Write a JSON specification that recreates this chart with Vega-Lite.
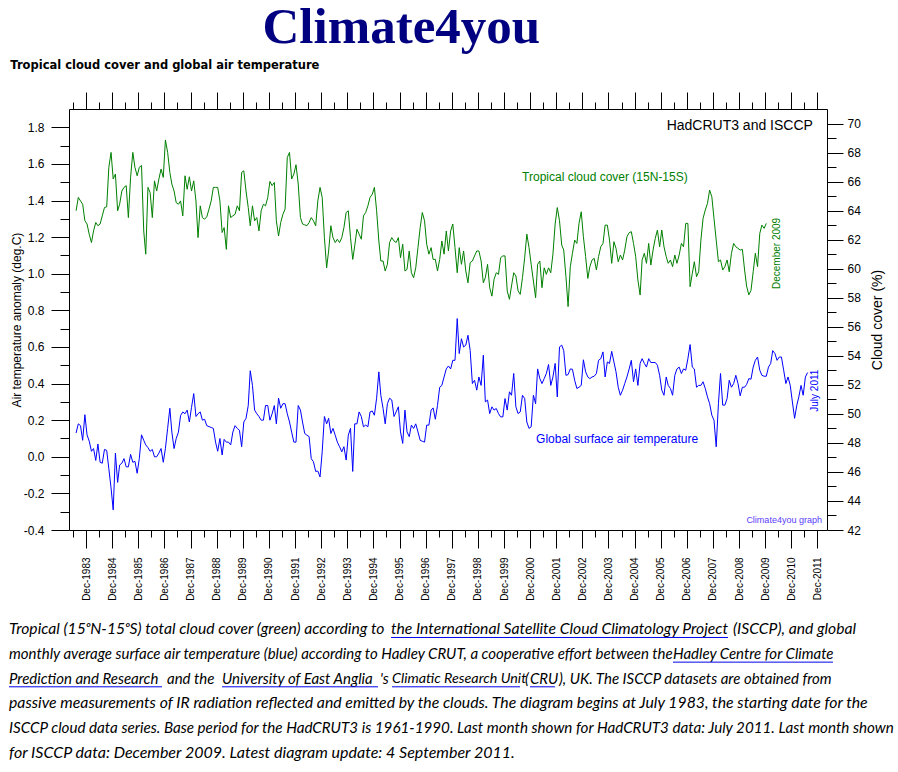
{
  "$schema": "https://vega.github.io/schema/vega-lite/v6.json",
  "background": "white",
  "padding": {"left": 8, "top": 2, "right": 0, "bottom": 0},
  "title": {
    "text": "Climate4you",
    "font": "Liberation Serif",
    "fontSize": 51,
    "fontWeight": "bold",
    "color": "#000080",
    "anchor": "start",
    "dx": 254,
    "dy": -1,
    "offset": 5
  },
  "config": {
    "view": {"stroke": null},
    "axis": {
      "labelFont": "Liberation Sans",
      "titleFont": "Liberation Sans",
      "labelColor": "#000000",
      "titleColor": "#000000",
      "tickColor": "#000000",
      "domainColor": "#000000",
      "grid": false,
      "titleFontWeight": "normal"
    },
    "text": {"font": "Liberation Sans"},
    "style": {
      "capplain": {"font": "Lato", "fontStyle": "italic", "fontSize": 15, "fill": "#000000", "align": "left", "baseline": "middle"},
      "caplink": {"font": "Lato", "fontStyle": "italic", "fontSize": 15, "fill": "#0000ee", "align": "left", "baseline": "middle"}
    }
  },
  "spacing": 16,
  "datasets": {
    "monthly": [
      {"date": "1983-07-15", "temp": 0.13, "cloud": 63.99},
      {"date": "1983-08-15", "temp": 0.18, "cloud": 64.91},
      {"date": "1983-09-15", "temp": 0.17, "cloud": 64.67},
      {"date": "1983-10-15", "temp": 0.09, "cloud": 64.44},
      {"date": "1983-11-15", "temp": 0.23, "cloud": 63.3},
      {"date": "1983-12-15", "temp": 0.12, "cloud": 63.08},
      {"date": "1984-01-15", "temp": 0.085, "cloud": 62.37},
      {"date": "1984-02-15", "temp": 0.03, "cloud": 61.8},
      {"date": "1984-03-15", "temp": 0.045, "cloud": 62.6},
      {"date": "1984-04-15", "temp": -0.02, "cloud": 63.18},
      {"date": "1984-05-15", "temp": 0.07, "cloud": 62.96},
      {"date": "1984-06-15", "temp": -0.03, "cloud": 63.08},
      {"date": "1984-07-15", "temp": -0.035, "cloud": 63.64},
      {"date": "1984-08-15", "temp": 0.04, "cloud": 64.21},
      {"date": "1984-09-15", "temp": 0.035, "cloud": 64.26},
      {"date": "1984-10-15", "temp": -0.065, "cloud": 66.98},
      {"date": "1984-11-15", "temp": -0.17, "cloud": 68.01},
      {"date": "1984-12-15", "temp": -0.29, "cloud": 66.18},
      {"date": "1985-01-15", "temp": 0.02, "cloud": 66.52},
      {"date": "1985-02-15", "temp": -0.14, "cloud": 63.99},
      {"date": "1985-03-15", "temp": -0.045, "cloud": 64.44},
      {"date": "1985-04-15", "temp": -0.035, "cloud": 65.35},
      {"date": "1985-05-15", "temp": -0.01, "cloud": 65.6},
      {"date": "1985-06-15", "temp": -0.055, "cloud": 65.72},
      {"date": "1985-07-15", "temp": -0.055, "cloud": 63.52},
      {"date": "1985-08-15", "temp": 0.013, "cloud": 66.29},
      {"date": "1985-09-15", "temp": -0.03, "cloud": 68.01},
      {"date": "1985-10-15", "temp": -0.025, "cloud": 66.98},
      {"date": "1985-11-15", "temp": -0.09, "cloud": 66.4},
      {"date": "1985-12-15", "temp": -0.01, "cloud": 66.98},
      {"date": "1986-01-15", "temp": 0.12, "cloud": 67.11},
      {"date": "1986-02-15", "temp": 0.09, "cloud": 62.6},
      {"date": "1986-03-15", "temp": 0.065, "cloud": 61.0},
      {"date": "1986-04-15", "temp": 0.05, "cloud": 65.6},
      {"date": "1986-05-15", "temp": 0.03, "cloud": 65.25},
      {"date": "1986-06-15", "temp": 0.04, "cloud": 63.52},
      {"date": "1986-07-15", "temp": 0.0, "cloud": 66.05},
      {"date": "1986-08-15", "temp": 0.0, "cloud": 65.35},
      {"date": "1986-09-15", "temp": 0.02, "cloud": 66.18},
      {"date": "1986-10-15", "temp": 0.045, "cloud": 66.86},
      {"date": "1986-11-15", "temp": -0.03, "cloud": 66.29},
      {"date": "1986-12-15", "temp": 0.045, "cloud": 68.87},
      {"date": "1987-01-15", "temp": 0.155, "cloud": 68.01},
      {"date": "1987-02-15", "temp": 0.265, "cloud": 66.63},
      {"date": "1987-03-15", "temp": 0.135, "cloud": 65.83},
      {"date": "1987-04-15", "temp": 0.045, "cloud": 65.35},
      {"date": "1987-05-15", "temp": 0.1, "cloud": 64.55},
      {"date": "1987-06-15", "temp": 0.135, "cloud": 64.44},
      {"date": "1987-07-15", "temp": 0.225, "cloud": 64.67},
      {"date": "1987-08-15", "temp": 0.245, "cloud": 63.64},
      {"date": "1987-09-15", "temp": 0.235, "cloud": 66.4},
      {"date": "1987-10-15", "temp": 0.255, "cloud": 65.47},
      {"date": "1987-11-15", "temp": 0.19, "cloud": 66.33},
      {"date": "1987-12-15", "temp": 0.27, "cloud": 65.35},
      {"date": "1988-01-15", "temp": 0.345, "cloud": 66.05},
      {"date": "1988-02-15", "temp": 0.22, "cloud": 64.67},
      {"date": "1988-03-15", "temp": 0.235, "cloud": 62.14},
      {"date": "1988-04-15", "temp": 0.245, "cloud": 64.33},
      {"date": "1988-05-15", "temp": 0.2, "cloud": 63.52},
      {"date": "1988-06-15", "temp": 0.205, "cloud": 63.41},
      {"date": "1988-07-15", "temp": 0.17, "cloud": 63.57},
      {"date": "1988-08-15", "temp": 0.165, "cloud": 64.1},
      {"date": "1988-09-15", "temp": 0.16, "cloud": 64.67},
      {"date": "1988-10-15", "temp": 0.155, "cloud": 65.6},
      {"date": "1988-11-15", "temp": 0.08, "cloud": 65.6},
      {"date": "1988-12-15", "temp": 0.03, "cloud": 65.6},
      {"date": "1989-01-15", "temp": 0.1, "cloud": 64.67},
      {"date": "1989-02-15", "temp": 0.01, "cloud": 62.49},
      {"date": "1989-03-15", "temp": 0.095, "cloud": 62.83},
      {"date": "1989-04-15", "temp": 0.08, "cloud": 61.33},
      {"date": "1989-05-15", "temp": 0.08, "cloud": 64.33},
      {"date": "1989-06-15", "temp": 0.065, "cloud": 63.52},
      {"date": "1989-07-15", "temp": 0.135, "cloud": 63.64},
      {"date": "1989-08-15", "temp": 0.17, "cloud": 63.75},
      {"date": "1989-09-15", "temp": 0.155, "cloud": 64.33},
      {"date": "1989-10-15", "temp": 0.145, "cloud": 63.99},
      {"date": "1989-11-15", "temp": 0.055, "cloud": 66.63},
      {"date": "1989-12-15", "temp": 0.19, "cloud": 66.74},
      {"date": "1990-01-15", "temp": 0.21, "cloud": 65.35},
      {"date": "1990-02-15", "temp": 0.28, "cloud": 64.21},
      {"date": "1990-03-15", "temp": 0.47, "cloud": 62.96},
      {"date": "1990-04-15", "temp": 0.39, "cloud": 64.33},
      {"date": "1990-05-15", "temp": 0.255, "cloud": 63.3},
      {"date": "1990-06-15", "temp": 0.235, "cloud": 63.52},
      {"date": "1990-07-15", "temp": 0.22, "cloud": 62.6},
      {"date": "1990-08-15", "temp": 0.2, "cloud": 63.99},
      {"date": "1990-09-15", "temp": 0.2, "cloud": 64.44},
      {"date": "1990-10-15", "temp": 0.28, "cloud": 64.33},
      {"date": "1990-11-15", "temp": 0.28, "cloud": 64.91},
      {"date": "1990-12-15", "temp": 0.2, "cloud": 66.01},
      {"date": "1991-01-15", "temp": 0.235, "cloud": 65.72},
      {"date": "1991-02-15", "temp": 0.28, "cloud": 65.94},
      {"date": "1991-03-15", "temp": 0.18, "cloud": 63.3},
      {"date": "1991-04-15", "temp": 0.32, "cloud": 62.25},
      {"date": "1991-05-15", "temp": 0.265, "cloud": 63.18},
      {"date": "1991-06-15", "temp": 0.29, "cloud": 63.75},
      {"date": "1991-07-15", "temp": 0.29, "cloud": 64.1},
      {"date": "1991-08-15", "temp": 0.235, "cloud": 67.66},
      {"date": "1991-09-15", "temp": 0.19, "cloud": 68.01},
      {"date": "1991-10-15", "temp": 0.135, "cloud": 66.18},
      {"date": "1991-11-15", "temp": 0.08, "cloud": 66.52},
      {"date": "1991-12-15", "temp": 0.08, "cloud": 67.16},
      {"date": "1992-01-15", "temp": 0.28, "cloud": 65.83},
      {"date": "1992-02-15", "temp": 0.255, "cloud": 63.52},
      {"date": "1992-03-15", "temp": 0.19, "cloud": 63.08},
      {"date": "1992-04-15", "temp": 0.127, "cloud": 63.02},
      {"date": "1992-05-15", "temp": 0.118, "cloud": 62.96},
      {"date": "1992-06-15", "temp": 0.11, "cloud": 63.18},
      {"date": "1992-07-15", "temp": -0.01, "cloud": 63.52},
      {"date": "1992-08-15", "temp": -0.027, "cloud": 63.3},
      {"date": "1992-09-15", "temp": -0.08, "cloud": 62.96},
      {"date": "1992-10-15", "temp": -0.078, "cloud": 64.67},
      {"date": "1992-11-15", "temp": -0.11, "cloud": 65.6},
      {"date": "1992-12-15", "temp": 0.027, "cloud": 64.91},
      {"date": "1993-01-15", "temp": 0.22, "cloud": 62.14},
      {"date": "1993-02-15", "temp": 0.18, "cloud": 60.06},
      {"date": "1993-03-15", "temp": 0.21, "cloud": 61.22},
      {"date": "1993-04-15", "temp": 0.127, "cloud": 62.96},
      {"date": "1993-05-15", "temp": 0.155, "cloud": 62.14},
      {"date": "1993-06-15", "temp": 0.118, "cloud": 61.8},
      {"date": "1993-07-15", "temp": 0.08, "cloud": 62.03},
      {"date": "1993-08-15", "temp": 0.055, "cloud": 61.8},
      {"date": "1993-09-15", "temp": 0.027, "cloud": 62.14},
      {"date": "1993-10-15", "temp": 0.055, "cloud": 62.83},
      {"date": "1993-11-15", "temp": -0.018, "cloud": 63.87},
      {"date": "1993-12-15", "temp": 0.118, "cloud": 63.99},
      {"date": "1994-01-15", "temp": 0.155, "cloud": 62.14},
      {"date": "1994-02-15", "temp": -0.08, "cloud": 60.64},
      {"date": "1994-03-15", "temp": 0.18, "cloud": 61.57},
      {"date": "1994-04-15", "temp": 0.18, "cloud": 62.72},
      {"date": "1994-05-15", "temp": 0.245, "cloud": 62.38},
      {"date": "1994-06-15", "temp": 0.22, "cloud": 62.03},
      {"date": "1994-07-15", "temp": 0.164, "cloud": 63.64},
      {"date": "1994-08-15", "temp": 0.173, "cloud": 63.87},
      {"date": "1994-09-15", "temp": 0.164, "cloud": 64.33},
      {"date": "1994-10-15", "temp": 0.245, "cloud": 64.91},
      {"date": "1994-11-15", "temp": 0.25, "cloud": 65.13},
      {"date": "1994-12-15", "temp": 0.227, "cloud": 65.6},
      {"date": "1995-01-15", "temp": 0.32, "cloud": 63.99},
      {"date": "1995-02-15", "temp": 0.464, "cloud": 61.91},
      {"date": "1995-03-15", "temp": 0.336, "cloud": 60.53},
      {"date": "1995-04-15", "temp": 0.264, "cloud": 60.53},
      {"date": "1995-05-15", "temp": 0.18, "cloud": 59.84},
      {"date": "1995-06-15", "temp": 0.29, "cloud": 60.3},
      {"date": "1995-07-15", "temp": 0.32, "cloud": 61.8},
      {"date": "1995-08-15", "temp": 0.31, "cloud": 62.14},
      {"date": "1995-09-15", "temp": 0.22, "cloud": 61.91},
      {"date": "1995-10-15", "temp": 0.245, "cloud": 61.8},
      {"date": "1995-11-15", "temp": 0.273, "cloud": 62.14},
      {"date": "1995-12-15", "temp": 0.136, "cloud": 60.76},
      {"date": "1996-01-15", "temp": 0.073, "cloud": 61.69},
      {"date": "1996-02-15", "temp": 0.255, "cloud": 59.84},
      {"date": "1996-03-15", "temp": 0.136, "cloud": 59.95},
      {"date": "1996-04-15", "temp": 0.11, "cloud": 61.22},
      {"date": "1996-05-15", "temp": 0.173, "cloud": 59.72},
      {"date": "1996-06-15", "temp": 0.155, "cloud": 59.38},
      {"date": "1996-07-15", "temp": 0.18, "cloud": 60.06},
      {"date": "1996-08-15", "temp": 0.136, "cloud": 61.45},
      {"date": "1996-09-15", "temp": 0.09, "cloud": 62.83},
      {"date": "1996-10-15", "temp": 0.085, "cloud": 63.87},
      {"date": "1996-11-15", "temp": 0.08, "cloud": 63.3},
      {"date": "1996-12-15", "temp": 0.173, "cloud": 61.69},
      {"date": "1997-01-15", "temp": 0.173, "cloud": 61.0},
      {"date": "1997-02-15", "temp": 0.255, "cloud": 61.45},
      {"date": "1997-03-15", "temp": 0.267, "cloud": 60.64},
      {"date": "1997-04-15", "temp": 0.205, "cloud": 60.64},
      {"date": "1997-05-15", "temp": 0.28, "cloud": 59.84},
      {"date": "1997-06-15", "temp": 0.38, "cloud": 60.64},
      {"date": "1997-07-15", "temp": 0.39, "cloud": 61.91},
      {"date": "1997-08-15", "temp": 0.436, "cloud": 61.0},
      {"date": "1997-09-15", "temp": 0.48, "cloud": 62.6},
      {"date": "1997-10-15", "temp": 0.496, "cloud": 61.22},
      {"date": "1997-11-15", "temp": 0.48, "cloud": 62.6},
      {"date": "1997-12-15", "temp": 0.527, "cloud": 63.08},
      {"date": "1998-01-15", "temp": 0.527, "cloud": 61.45},
      {"date": "1998-02-15", "temp": 0.755, "cloud": 59.72},
      {"date": "1998-03-15", "temp": 0.564, "cloud": 61.45},
      {"date": "1998-04-15", "temp": 0.645, "cloud": 60.3},
      {"date": "1998-05-15", "temp": 0.6, "cloud": 61.22},
      {"date": "1998-06-15", "temp": 0.61, "cloud": 59.84},
      {"date": "1998-07-15", "temp": 0.664, "cloud": 59.03},
      {"date": "1998-08-15", "temp": 0.58, "cloud": 60.42},
      {"date": "1998-09-15", "temp": 0.4, "cloud": 60.53},
      {"date": "1998-10-15", "temp": 0.418, "cloud": 60.88},
      {"date": "1998-11-15", "temp": 0.364, "cloud": 61.22},
      {"date": "1998-12-15", "temp": 0.436, "cloud": 61.22},
      {"date": "1999-01-15", "temp": 0.39, "cloud": 60.53},
      {"date": "1999-02-15", "temp": 0.555, "cloud": 59.03},
      {"date": "1999-03-15", "temp": 0.3, "cloud": 59.38},
      {"date": "1999-04-15", "temp": 0.31, "cloud": 60.3},
      {"date": "1999-05-15", "temp": 0.236, "cloud": 58.69},
      {"date": "1999-06-15", "temp": 0.273, "cloud": 58.11},
      {"date": "1999-07-15", "temp": 0.255, "cloud": 59.27},
      {"date": "1999-08-15", "temp": 0.264, "cloud": 59.72},
      {"date": "1999-09-15", "temp": 0.236, "cloud": 59.61},
      {"date": "1999-10-15", "temp": 0.218, "cloud": 60.76},
      {"date": "1999-11-15", "temp": 0.218, "cloud": 60.88},
      {"date": "1999-12-15", "temp": 0.318, "cloud": 60.88},
      {"date": "2000-01-15", "temp": 0.255, "cloud": 58.47},
      {"date": "2000-02-15", "temp": 0.355, "cloud": 57.89},
      {"date": "2000-03-15", "temp": 0.336, "cloud": 58.81},
      {"date": "2000-04-15", "temp": 0.455, "cloud": 59.72},
      {"date": "2000-05-15", "temp": 0.273, "cloud": 59.5},
      {"date": "2000-06-15", "temp": 0.236, "cloud": 58.47},
      {"date": "2000-07-15", "temp": 0.245, "cloud": 58.23},
      {"date": "2000-08-15", "temp": 0.336, "cloud": 59.38},
      {"date": "2000-09-15", "temp": 0.318, "cloud": 60.76},
      {"date": "2000-10-15", "temp": 0.19, "cloud": 62.38},
      {"date": "2000-11-15", "temp": 0.155, "cloud": 61.45},
      {"date": "2000-12-15", "temp": 0.164, "cloud": 60.3},
      {"date": "2001-01-15", "temp": 0.336, "cloud": 59.15},
      {"date": "2001-02-15", "temp": 0.29, "cloud": 58.0},
      {"date": "2001-03-15", "temp": 0.48, "cloud": 60.3},
      {"date": "2001-04-15", "temp": 0.427, "cloud": 60.53},
      {"date": "2001-05-15", "temp": 0.4, "cloud": 58.69},
      {"date": "2001-06-15", "temp": 0.427, "cloud": 60.06},
      {"date": "2001-07-15", "temp": 0.455, "cloud": 59.61},
      {"date": "2001-08-15", "temp": 0.504, "cloud": 60.06},
      {"date": "2001-09-15", "temp": 0.39, "cloud": 59.72},
      {"date": "2001-10-15", "temp": 0.436, "cloud": 61.0},
      {"date": "2001-11-15", "temp": 0.51, "cloud": 63.08},
      {"date": "2001-12-15", "temp": 0.327, "cloud": 64.21},
      {"date": "2002-01-15", "temp": 0.6, "cloud": 63.3},
      {"date": "2002-02-15", "temp": 0.61, "cloud": 61.63},
      {"date": "2002-03-15", "temp": 0.58, "cloud": 61.28},
      {"date": "2002-04-15", "temp": 0.445, "cloud": 59.45},
      {"date": "2002-05-15", "temp": 0.449, "cloud": 57.39},
      {"date": "2002-06-15", "temp": 0.48, "cloud": 60.14},
      {"date": "2002-07-15", "temp": 0.478, "cloud": 61.06},
      {"date": "2002-08-15", "temp": 0.418, "cloud": 61.97},
      {"date": "2002-09-15", "temp": 0.373, "cloud": 61.74},
      {"date": "2002-10-15", "temp": 0.38, "cloud": 63.12},
      {"date": "2002-11-15", "temp": 0.39, "cloud": 63.92},
      {"date": "2002-12-15", "temp": 0.53, "cloud": 62.2},
      {"date": "2003-01-15", "temp": 0.464, "cloud": 60.83},
      {"date": "2003-02-15", "temp": 0.436, "cloud": 59.33},
      {"date": "2003-03-15", "temp": 0.427, "cloud": 60.14},
      {"date": "2003-04-15", "temp": 0.436, "cloud": 60.6},
      {"date": "2003-05-15", "temp": 0.44, "cloud": 60.71},
      {"date": "2003-06-15", "temp": 0.455, "cloud": 59.91},
      {"date": "2003-07-15", "temp": 0.527, "cloud": 60.83},
      {"date": "2003-08-15", "temp": 0.536, "cloud": 61.51},
      {"date": "2003-09-15", "temp": 0.573, "cloud": 61.74},
      {"date": "2003-10-15", "temp": 0.436, "cloud": 63.0},
      {"date": "2003-11-15", "temp": 0.518, "cloud": 63.0},
      {"date": "2003-12-15", "temp": 0.51, "cloud": 61.97},
      {"date": "2004-01-15", "temp": 0.576, "cloud": 60.37},
      {"date": "2004-02-15", "temp": 0.518, "cloud": 61.86},
      {"date": "2004-03-15", "temp": 0.464, "cloud": 61.4},
      {"date": "2004-04-15", "temp": 0.38, "cloud": 60.48},
      {"date": "2004-05-15", "temp": 0.336, "cloud": 60.94},
      {"date": "2004-06-15", "temp": 0.364, "cloud": 60.6},
      {"date": "2004-07-15", "temp": 0.4, "cloud": 61.28},
      {"date": "2004-08-15", "temp": 0.436, "cloud": 62.2},
      {"date": "2004-09-15", "temp": 0.48, "cloud": 62.48},
      {"date": "2004-10-15", "temp": 0.527, "cloud": 62.55},
      {"date": "2004-11-15", "temp": 0.41, "cloud": 61.74},
      {"date": "2004-12-15", "temp": 0.48, "cloud": 60.83},
      {"date": "2005-01-15", "temp": 0.39, "cloud": 59.22},
      {"date": "2005-02-15", "temp": 0.51, "cloud": 58.19},
      {"date": "2005-03-15", "temp": 0.536, "cloud": 60.6},
      {"date": "2005-04-15", "temp": 0.51, "cloud": 61.06},
      {"date": "2005-05-15", "temp": 0.49, "cloud": 60.37},
      {"date": "2005-06-15", "temp": 0.536, "cloud": 61.74},
      {"date": "2005-07-15", "temp": 0.515, "cloud": 60.25},
      {"date": "2005-08-15", "temp": 0.515, "cloud": 61.28},
      {"date": "2005-09-15", "temp": 0.515, "cloud": 62.09},
      {"date": "2005-10-15", "temp": 0.5, "cloud": 62.66},
      {"date": "2005-11-15", "temp": 0.445, "cloud": 61.51},
      {"date": "2005-12-15", "temp": 0.364, "cloud": 62.66},
      {"date": "2006-01-15", "temp": 0.336, "cloud": 61.51},
      {"date": "2006-02-15", "temp": 0.436, "cloud": 60.83},
      {"date": "2006-03-15", "temp": 0.39, "cloud": 60.37},
      {"date": "2006-04-15", "temp": 0.373, "cloud": 60.6},
      {"date": "2006-05-15", "temp": 0.336, "cloud": 60.14},
      {"date": "2006-06-15", "temp": 0.445, "cloud": 60.94},
      {"date": "2006-07-15", "temp": 0.48, "cloud": 60.37},
      {"date": "2006-08-15", "temp": 0.49, "cloud": 60.94},
      {"date": "2006-09-15", "temp": 0.455, "cloud": 61.74},
      {"date": "2006-10-15", "temp": 0.48, "cloud": 61.51},
      {"date": "2006-11-15", "temp": 0.473, "cloud": 63.12},
      {"date": "2006-12-15", "temp": 0.536, "cloud": 63.12},
      {"date": "2007-01-15", "temp": 0.613, "cloud": 58.76},
      {"date": "2007-02-15", "temp": 0.49, "cloud": 59.68},
      {"date": "2007-03-15", "temp": 0.48, "cloud": 60.48},
      {"date": "2007-04-15", "temp": 0.38, "cloud": 59.45},
      {"date": "2007-05-15", "temp": 0.39, "cloud": 59.79},
      {"date": "2007-06-15", "temp": 0.39, "cloud": 61.97},
      {"date": "2007-07-15", "temp": 0.41, "cloud": 63.46},
      {"date": "2007-08-15", "temp": 0.373, "cloud": 64.04},
      {"date": "2007-09-15", "temp": 0.327, "cloud": 64.5},
      {"date": "2007-10-15", "temp": 0.29, "cloud": 65.41},
      {"date": "2007-11-15", "temp": 0.227, "cloud": 64.95},
      {"date": "2007-12-15", "temp": 0.2, "cloud": 63.46},
      {"date": "2008-01-15", "temp": 0.055, "cloud": 61.97},
      {"date": "2008-02-15", "temp": 0.29, "cloud": 60.48},
      {"date": "2008-03-15", "temp": 0.455, "cloud": 60.6},
      {"date": "2008-04-15", "temp": 0.282, "cloud": 59.91},
      {"date": "2008-05-15", "temp": 0.282, "cloud": 60.14},
      {"date": "2008-06-15", "temp": 0.318, "cloud": 60.6},
      {"date": "2008-07-15", "temp": 0.418, "cloud": 59.79},
      {"date": "2008-08-15", "temp": 0.38, "cloud": 61.06},
      {"date": "2008-09-15", "temp": 0.4, "cloud": 61.74},
      {"date": "2008-10-15", "temp": 0.445, "cloud": 61.51},
      {"date": "2008-11-15", "temp": 0.4, "cloud": 61.4},
      {"date": "2008-12-15", "temp": 0.333, "cloud": 61.28},
      {"date": "2009-01-15", "temp": 0.38, "cloud": 61.33},
      {"date": "2009-02-15", "temp": 0.38, "cloud": 59.91},
      {"date": "2009-03-15", "temp": 0.395, "cloud": 58.8},
      {"date": "2009-04-15", "temp": 0.427, "cloud": 58.2},
      {"date": "2009-05-15", "temp": 0.424, "cloud": 58.5},
      {"date": "2009-06-15", "temp": 0.49, "cloud": 59.79},
      {"date": "2009-07-15", "temp": 0.527, "cloud": 61.06},
      {"date": "2009-08-15", "temp": 0.545, "cloud": 60.14},
      {"date": "2009-09-15", "temp": 0.473, "cloud": 62.43},
      {"date": "2009-10-15", "temp": 0.445, "cloud": 63.0},
      {"date": "2009-11-15", "temp": 0.44, "cloud": 62.78},
      {"date": "2009-12-15", "temp": 0.44, "cloud": 63.12},
      {"date": "2010-01-15", "temp": 0.49},
      {"date": "2010-02-15", "temp": 0.51},
      {"date": "2010-03-15", "temp": 0.58},
      {"date": "2010-04-15", "temp": 0.564},
      {"date": "2010-05-15", "temp": 0.527},
      {"date": "2010-06-15", "temp": 0.545},
      {"date": "2010-07-15", "temp": 0.545},
      {"date": "2010-08-15", "temp": 0.473},
      {"date": "2010-09-15", "temp": 0.4},
      {"date": "2010-10-15", "temp": 0.436},
      {"date": "2010-11-15", "temp": 0.39},
      {"date": "2010-12-15", "temp": 0.3},
      {"date": "2011-01-15", "temp": 0.21},
      {"date": "2011-02-15", "temp": 0.282},
      {"date": "2011-03-15", "temp": 0.327},
      {"date": "2011-04-15", "temp": 0.39},
      {"date": "2011-05-15", "temp": 0.336},
      {"date": "2011-06-15", "temp": 0.436},
      {"date": "2011-07-15", "temp": 0.46}
    ]
  },
  "vconcat": [
    {
      "width": 758,
      "height": 421,
      "title": {
        "text": "Tropical cloud cover and global air temperature",
        "anchor": "start",
        "frame": "bounds",
        "font": "DejaVu Sans",
        "fontSize": 11.5,
        "fontWeight": "bold",
        "color": "#000000",
        "offset": 20
      },
      "data": {"name": "monthly"},
      "resolve": {
        "scale": {"y": "independent"},
        "axis": {"x": "independent", "y": "independent"}
      },
      "layer": [
        {
          "mark": {"type": "line", "color": "#0000ff", "strokeWidth": 1},
          "encoding": {
            "x": {
              "field": "date",
              "type": "temporal",
              "scale": {
                "type": "utc",
                "domain": [
                  {"year": 1983, "month": 4, "date": 7, "utc": true},
                  {"year": 2012, "month": 4, "date": 12, "utc": true}
                ]
              },
              "axis": {
                "orient": "bottom",
                "title": null,
                "format": "%b-%Y",
                "labelAngle": 270,
                "labelAlign": "right",
                "labelBaseline": "middle",
                "labelFontSize": 10,
                "labelPadding": 9,
                "labelOverlap": false,
                "labelFlush": false,
                "tickSize": 18,
                "values": [
                  {"year": 1983, "month": 12, "date": 1, "utc": true},
                  {"year": 1984, "month": 12, "date": 1, "utc": true},
                  {"year": 1985, "month": 12, "date": 1, "utc": true},
                  {"year": 1986, "month": 12, "date": 1, "utc": true},
                  {"year": 1987, "month": 12, "date": 1, "utc": true},
                  {"year": 1988, "month": 12, "date": 1, "utc": true},
                  {"year": 1989, "month": 12, "date": 1, "utc": true},
                  {"year": 1990, "month": 12, "date": 1, "utc": true},
                  {"year": 1991, "month": 12, "date": 1, "utc": true},
                  {"year": 1992, "month": 12, "date": 1, "utc": true},
                  {"year": 1993, "month": 12, "date": 1, "utc": true},
                  {"year": 1994, "month": 12, "date": 1, "utc": true},
                  {"year": 1995, "month": 12, "date": 1, "utc": true},
                  {"year": 1996, "month": 12, "date": 1, "utc": true},
                  {"year": 1997, "month": 12, "date": 1, "utc": true},
                  {"year": 1998, "month": 12, "date": 1, "utc": true},
                  {"year": 1999, "month": 12, "date": 1, "utc": true},
                  {"year": 2000, "month": 12, "date": 1, "utc": true},
                  {"year": 2001, "month": 12, "date": 1, "utc": true},
                  {"year": 2002, "month": 12, "date": 1, "utc": true},
                  {"year": 2003, "month": 12, "date": 1, "utc": true},
                  {"year": 2004, "month": 12, "date": 1, "utc": true},
                  {"year": 2005, "month": 12, "date": 1, "utc": true},
                  {"year": 2006, "month": 12, "date": 1, "utc": true},
                  {"year": 2007, "month": 12, "date": 1, "utc": true},
                  {"year": 2008, "month": 12, "date": 1, "utc": true},
                  {"year": 2009, "month": 12, "date": 1, "utc": true},
                  {"year": 2010, "month": 12, "date": 1, "utc": true},
                  {"year": 2011, "month": 12, "date": 1, "utc": true}
                ]
              }
            },
            "y": {
              "field": "temp",
              "type": "quantitative",
              "scale": {"domain": [-0.4, 1.9], "nice": false, "zero": false},
              "axis": {
                "orient": "left",
                "title": "Air temperature anomaly (deg.C)",
                "titleFontSize": 12,
                "titlePadding": 0,
                "labelFontSize": 12,
                "labelPadding": 7,
                "tickSize": 18,
                "labelExpr": "replace(format(datum.value, '.1f'), '\u2212', '-')",
                "values": [-0.4, -0.2, 0, 0.2, 0.4, 0.6, 0.8, 1.0, 1.2, 1.4, 1.6, 1.8]
              }
            }
          }
        },
        {
          "mark": {"type": "line", "color": "#008000", "strokeWidth": 1},
          "encoding": {
            "x": {
              "field": "date",
              "type": "temporal",
              "axis": {
                "orient": "top",
                "title": null,
                "labels": false,
                "tickSize": 17,
                "values": [
                  {"year": 1983, "month": 12, "date": 1, "utc": true},
                  {"year": 1984, "month": 12, "date": 1, "utc": true},
                  {"year": 1985, "month": 12, "date": 1, "utc": true},
                  {"year": 1986, "month": 12, "date": 1, "utc": true},
                  {"year": 1987, "month": 12, "date": 1, "utc": true},
                  {"year": 1988, "month": 12, "date": 1, "utc": true},
                  {"year": 1989, "month": 12, "date": 1, "utc": true},
                  {"year": 1990, "month": 12, "date": 1, "utc": true},
                  {"year": 1991, "month": 12, "date": 1, "utc": true},
                  {"year": 1992, "month": 12, "date": 1, "utc": true},
                  {"year": 1993, "month": 12, "date": 1, "utc": true},
                  {"year": 1994, "month": 12, "date": 1, "utc": true},
                  {"year": 1995, "month": 12, "date": 1, "utc": true},
                  {"year": 1996, "month": 12, "date": 1, "utc": true},
                  {"year": 1997, "month": 12, "date": 1, "utc": true},
                  {"year": 1998, "month": 12, "date": 1, "utc": true},
                  {"year": 1999, "month": 12, "date": 1, "utc": true},
                  {"year": 2000, "month": 12, "date": 1, "utc": true},
                  {"year": 2001, "month": 12, "date": 1, "utc": true},
                  {"year": 2002, "month": 12, "date": 1, "utc": true},
                  {"year": 2003, "month": 12, "date": 1, "utc": true},
                  {"year": 2004, "month": 12, "date": 1, "utc": true},
                  {"year": 2005, "month": 12, "date": 1, "utc": true},
                  {"year": 2006, "month": 12, "date": 1, "utc": true},
                  {"year": 2007, "month": 12, "date": 1, "utc": true},
                  {"year": 2008, "month": 12, "date": 1, "utc": true},
                  {"year": 2009, "month": 12, "date": 1, "utc": true},
                  {"year": 2010, "month": 12, "date": 1, "utc": true},
                  {"year": 2011, "month": 12, "date": 1, "utc": true}
                ]
              }
            },
            "y": {
              "field": "cloud",
              "type": "quantitative",
              "scale": {"domain": [42, 71], "nice": false, "zero": false},
              "axis": {
                "orient": "right",
                "title": "Cloud cover (%)",
                "titleFontSize": 14,
                "titleAngle": 270,
                "titleBaseline": "top",
                "titlePadding": 10,
                "labelFontSize": 12,
                "labelPadding": 4,
                "tickSize": 16,
                "values": [42, 44, 46, 48, 50, 52, 54, 56, 58, 60, 62, 64, 66, 68, 70]
              }
            }
          }
        },
        {
          "data": {"values": [{}]},
          "mark": {"type": "text", "align": "right", "baseline": "middle", "fontSize": 14, "color": "#000000"},
          "encoding": {
            "x": {
              "datum": {"year": 2011, "month": 9, "date": 28, "utc": true},
              "type": "temporal",
              "axis": {
                "orient": "bottom",
                "title": null,
                "labels": false,
                "domain": false,
                "tickSize": 7,
                "values": [
                  {"year": 1983, "month": 6, "date": 1, "utc": true},
                  {"year": 1984, "month": 6, "date": 1, "utc": true},
                  {"year": 1985, "month": 6, "date": 1, "utc": true},
                  {"year": 1986, "month": 6, "date": 1, "utc": true},
                  {"year": 1987, "month": 6, "date": 1, "utc": true},
                  {"year": 1988, "month": 6, "date": 1, "utc": true},
                  {"year": 1989, "month": 6, "date": 1, "utc": true},
                  {"year": 1990, "month": 6, "date": 1, "utc": true},
                  {"year": 1991, "month": 6, "date": 1, "utc": true},
                  {"year": 1992, "month": 6, "date": 1, "utc": true},
                  {"year": 1993, "month": 6, "date": 1, "utc": true},
                  {"year": 1994, "month": 6, "date": 1, "utc": true},
                  {"year": 1995, "month": 6, "date": 1, "utc": true},
                  {"year": 1996, "month": 6, "date": 1, "utc": true},
                  {"year": 1997, "month": 6, "date": 1, "utc": true},
                  {"year": 1998, "month": 6, "date": 1, "utc": true},
                  {"year": 1999, "month": 6, "date": 1, "utc": true},
                  {"year": 2000, "month": 6, "date": 1, "utc": true},
                  {"year": 2001, "month": 6, "date": 1, "utc": true},
                  {"year": 2002, "month": 6, "date": 1, "utc": true},
                  {"year": 2003, "month": 6, "date": 1, "utc": true},
                  {"year": 2004, "month": 6, "date": 1, "utc": true},
                  {"year": 2005, "month": 6, "date": 1, "utc": true},
                  {"year": 2006, "month": 6, "date": 1, "utc": true},
                  {"year": 2007, "month": 6, "date": 1, "utc": true},
                  {"year": 2008, "month": 6, "date": 1, "utc": true},
                  {"year": 2009, "month": 6, "date": 1, "utc": true},
                  {"year": 2010, "month": 6, "date": 1, "utc": true},
                  {"year": 2011, "month": 6, "date": 1, "utc": true}
                ]
              }
            },
            "y": {
              "datum": 1.807,
              "type": "quantitative",
              "scale": {"domain": [-0.4, 1.9], "nice": false, "zero": false},
              "axis": {
                "orient": "left",
                "title": null,
                "labels": false,
                "domain": false,
                "tickSize": 9,
                "values": [-0.3, -0.1, 0.1, 0.3, 0.5, 0.7, 0.9, 1.1, 1.3, 1.5, 1.7]
              }
            },
            "text": {"value": "HadCRUT3 and ISCCP"}
          }
        },
        {
          "data": {"values": [{}]},
          "mark": {"type": "text", "align": "left", "baseline": "middle", "fontSize": 12, "color": "#0000ff"},
          "encoding": {
            "x": {
              "datum": {"year": 2001, "month": 2, "date": 21, "utc": true},
              "type": "temporal",
              "axis": {
                "orient": "top",
                "title": null,
                "labels": false,
                "domain": false,
                "tickSize": 7,
                "values": [
                  {"year": 1983, "month": 6, "date": 1, "utc": true},
                  {"year": 1984, "month": 6, "date": 1, "utc": true},
                  {"year": 1985, "month": 6, "date": 1, "utc": true},
                  {"year": 1986, "month": 6, "date": 1, "utc": true},
                  {"year": 1987, "month": 6, "date": 1, "utc": true},
                  {"year": 1988, "month": 6, "date": 1, "utc": true},
                  {"year": 1989, "month": 6, "date": 1, "utc": true},
                  {"year": 1990, "month": 6, "date": 1, "utc": true},
                  {"year": 1991, "month": 6, "date": 1, "utc": true},
                  {"year": 1992, "month": 6, "date": 1, "utc": true},
                  {"year": 1993, "month": 6, "date": 1, "utc": true},
                  {"year": 1994, "month": 6, "date": 1, "utc": true},
                  {"year": 1995, "month": 6, "date": 1, "utc": true},
                  {"year": 1996, "month": 6, "date": 1, "utc": true},
                  {"year": 1997, "month": 6, "date": 1, "utc": true},
                  {"year": 1998, "month": 6, "date": 1, "utc": true},
                  {"year": 1999, "month": 6, "date": 1, "utc": true},
                  {"year": 2000, "month": 6, "date": 1, "utc": true},
                  {"year": 2001, "month": 6, "date": 1, "utc": true},
                  {"year": 2002, "month": 6, "date": 1, "utc": true},
                  {"year": 2003, "month": 6, "date": 1, "utc": true},
                  {"year": 2004, "month": 6, "date": 1, "utc": true},
                  {"year": 2005, "month": 6, "date": 1, "utc": true},
                  {"year": 2006, "month": 6, "date": 1, "utc": true},
                  {"year": 2007, "month": 6, "date": 1, "utc": true},
                  {"year": 2008, "month": 6, "date": 1, "utc": true},
                  {"year": 2009, "month": 6, "date": 1, "utc": true},
                  {"year": 2010, "month": 6, "date": 1, "utc": true},
                  {"year": 2011, "month": 6, "date": 1, "utc": true}
                ]
              }
            },
            "y": {
              "datum": 0.096,
              "type": "quantitative",
              "scale": {"domain": [-0.4, 1.9], "nice": false, "zero": false},
              "axis": null
            },
            "text": {"value": "Global surface air temperature"}
          }
        },
        {
          "data": {"values": [{}]},
          "mark": {"type": "text", "align": "left", "baseline": "middle", "fontSize": 12, "color": "#008000"},
          "encoding": {
            "x": {"datum": {"year": 2000, "month": 8, "date": 10, "utc": true}, "type": "temporal", "axis": null},
            "y": {
              "datum": 66.32,
              "type": "quantitative",
              "scale": {"domain": [42, 71], "nice": false, "zero": false},
              "axis": {
                "orient": "right",
                "title": null,
                "labels": false,
                "domain": false,
                "tickSize": 9,
                "values": [43, 45, 47, 49, 51, 53, 55, 57, 59, 61, 63, 65, 67, 69]
              }
            },
            "text": {"value": "Tropical cloud cover (15N-15S)"}
          }
        },
        {
          "data": {"values": [{}]},
          "mark": {"type": "text", "align": "center", "baseline": "middle", "angle": 270, "fontSize": 10, "color": "#008000"},
          "encoding": {
            "x": {"datum": {"year": 2010, "month": 5, "date": 15, "utc": true}, "type": "temporal", "axis": null},
            "y": {"datum": 61.05, "type": "quantitative", "scale": {"domain": [42, 71], "nice": false, "zero": false}, "axis": null},
            "text": {"value": "December 2009"}
          }
        },
        {
          "data": {"values": [{}]},
          "mark": {"type": "text", "align": "center", "baseline": "middle", "angle": 270, "fontSize": 10, "color": "#0000ff"},
          "encoding": {
            "x": {"datum": {"year": 2011, "month": 11, "date": 3, "utc": true}, "type": "temporal", "axis": null},
            "y": {"datum": 0.361, "type": "quantitative", "scale": {"domain": [-0.4, 1.9], "nice": false, "zero": false}, "axis": null},
            "text": {"value": "July 2011"}
          }
        },
        {
          "data": {"values": [{}]},
          "mark": {"type": "text", "align": "right", "baseline": "middle", "fontSize": 9, "color": "#5a3cff"},
          "encoding": {
            "x": {"datum": {"year": 2012, "month": 2, "date": 1, "utc": true}, "type": "temporal", "axis": null},
            "y": {"datum": -0.344, "type": "quantitative", "scale": {"domain": [-0.4, 1.9], "nice": false, "zero": false}, "axis": null},
            "text": {"value": "Climate4you graph"}
          }
        }
      ]
    },
    {
      "width": 830,
      "height": 148,
      "layer": [
        {
          "data": {"values": [{}]},
          "mark": {"type": "text", "style": "capplain", "fontSize": 15.7},
          "encoding": {
            "x": {"datum": 0, "type": "quantitative", "scale": {"domain": [60, 890], "nice": false, "zero": false}, "axis": null},
            "y": {"datum": 1, "type": "quantitative", "scale": {"domain": [0.5, 6.5], "reverse": true, "nice": false, "zero": false}, "axis": null},
            "text": {"value": "Tropical (15ᵒN-15ᵒS) total cloud cover (green) according to"}
          }
        },
        {
          "data": {"values": [{}]},
          "mark": {"type": "text", "style": "caplink", "fontSize": 15.7},
          "encoding": {"x": {"datum": 382}, "y": {"datum": 1}, "text": {"value": "the International Satellite Cloud Climatology Project"}}
        },
        {
          "data": {"values": [{}]},
          "mark": {"type": "text", "style": "capplain", "fontSize": 15.7},
          "encoding": {"x": {"datum": 724}, "y": {"datum": 1}, "text": {"value": "(ISCCP), and global"}}
        },
        {
          "data": {"values": [{}]},
          "mark": {"type": "text", "style": "capplain"},
          "encoding": {"x": {"datum": 0}, "y": {"datum": 2}, "text": {"value": "monthly average surface air temperature (blue) according to Hadley CRUT, a cooperative effort between the"}}
        },
        {
          "data": {"values": [{}]},
          "mark": {"type": "text", "style": "caplink"},
          "encoding": {"x": {"datum": 664}, "y": {"datum": 2}, "text": {"value": "Hadley Centre for Climate"}}
        },
        {
          "data": {"values": [{}]},
          "mark": {"type": "text", "style": "caplink"},
          "encoding": {"x": {"datum": 0}, "y": {"datum": 3}, "text": {"value": "Prediction and Research"}}
        },
        {
          "data": {"values": [{}]},
          "mark": {"type": "text", "style": "capplain"},
          "encoding": {"x": {"datum": 158}, "y": {"datum": 3}, "text": {"value": "and the"}}
        },
        {
          "data": {"values": [{}]},
          "mark": {"type": "text", "style": "caplink"},
          "encoding": {"x": {"datum": 213}, "y": {"datum": 3}, "text": {"value": "University of East Anglia"}}
        },
        {
          "data": {"values": [{}]},
          "mark": {"type": "text", "style": "capplain"},
          "encoding": {"x": {"datum": 371}, "y": {"datum": 3}, "text": {"value": "'s"}}
        },
        {
          "data": {"values": [{}]},
          "mark": {"type": "text", "style": "caplink", "fontSize": 14.3},
          "encoding": {"x": {"datum": 383}, "y": {"datum": 3}, "text": {"value": "Climatic Research Unit"}}
        },
        {
          "data": {"values": [{}]},
          "mark": {"type": "text", "style": "capplain"},
          "encoding": {"x": {"datum": 516}, "y": {"datum": 3}, "text": {"value": "("}}
        },
        {
          "data": {"values": [{}]},
          "mark": {"type": "text", "style": "caplink"},
          "encoding": {"x": {"datum": 521}, "y": {"datum": 3}, "text": {"value": "CRU"}}
        },
        {
          "data": {"values": [{}]},
          "mark": {"type": "text", "style": "capplain"},
          "encoding": {"x": {"datum": 550}, "y": {"datum": 3}, "text": {"value": "), UK. The ISCCP datasets are obtained from"}}
        },
        {
          "data": {"values": [{}]},
          "mark": {"type": "text", "style": "capplain", "fontSize": 15.8},
          "encoding": {"x": {"datum": 0}, "y": {"datum": 4}, "text": {"value": "passive measurements of IR radiation reflected and emitted by the clouds. The diagram begins at July 1983, the starting date for the"}}
        },
        {
          "data": {"values": [{}]},
          "mark": {"type": "text", "style": "capplain", "fontSize": 15.2},
          "encoding": {"x": {"datum": 0}, "y": {"datum": 5}, "text": {"value": "ISCCP cloud data series. Base period for the HadCRUT3 is 1961-1990. Last month shown for HadCRUT3 data: July 2011. Last month shown"}}
        },
        {
          "data": {"values": [{}]},
          "mark": {"type": "text", "style": "capplain", "fontSize": 16},
          "encoding": {"x": {"datum": 0}, "y": {"datum": 6}, "text": {"value": "for ISCCP data: December 2009. Latest diagram update: 4 September 2011."}}
        },
        {
          "data": {"values": [{}]},
          "mark": {"type": "rule", "color": "#0000ee", "strokeWidth": 1},
          "encoding": {"x": {"datum": 382}, "x2": {"datum": 719}, "y": {"datum": 1.33}}
        },
        {
          "data": {"values": [{}]},
          "mark": {"type": "rule", "color": "#0000ee", "strokeWidth": 1},
          "encoding": {"x": {"datum": 664}, "x2": {"datum": 824}, "y": {"datum": 2.33}}
        },
        {
          "data": {"values": [{}]},
          "mark": {"type": "rule", "color": "#0000ee", "strokeWidth": 1},
          "encoding": {"x": {"datum": 0}, "x2": {"datum": 153}, "y": {"datum": 3.33}}
        },
        {
          "data": {"values": [{}]},
          "mark": {"type": "rule", "color": "#0000ee", "strokeWidth": 1},
          "encoding": {"x": {"datum": 213}, "x2": {"datum": 369}, "y": {"datum": 3.33}}
        },
        {
          "data": {"values": [{}]},
          "mark": {"type": "rule", "color": "#0000ee", "strokeWidth": 1},
          "encoding": {"x": {"datum": 383}, "x2": {"datum": 511}, "y": {"datum": 3.33}}
        },
        {
          "data": {"values": [{}]},
          "mark": {"type": "rule", "color": "#0000ee", "strokeWidth": 1},
          "encoding": {"x": {"datum": 521}, "x2": {"datum": 546}, "y": {"datum": 3.33}}
        }
      ]
    }
  ]
}
